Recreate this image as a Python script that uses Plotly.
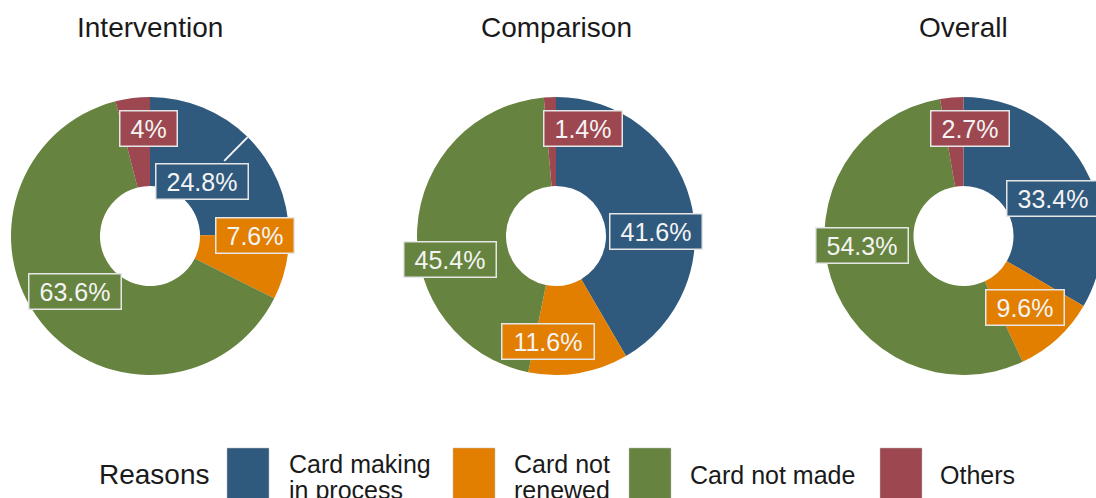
import math
import plotly.graph_objects as go

# ---- data -------------------------------------------------------------
groups = ["Intervention", "Comparison", "Overall"]
reasons = ["Card making in process", "Card not renewed", "Card not made", "Others"]
intervention = [24.8, 7.6, 63.6, 4.0]
comparison = [41.6, 11.6, 45.4, 1.4]
overall = [33.4, 9.6, 54.3, 2.7]
series = [intervention, comparison, overall]

colors = ["#30597E", "#E27E00", "#66843F", "#9D4751"]
legend_lines = [["Card making", "in process"], ["Card not", "renewed"],
                ["Card not made"], ["Others"]]

# ---- layout constants (pixels) ---------------------------------------
W, H = 1110, 498
R = 139
centers = [(150, 236), (556, 236), (963.5, 236)]
FONT = "Liberation Sans, Arial, Helvetica, sans-serif"

# label placement relative to each donut centre (repelled positions)
label_offsets = [
    [(51.5, -54.5), (105, -0.5), (-75.5, 55.5), (-2, -107.5)],
    [(99.5, -4.5), (-8.5, 105.5), (-106, 23), (26.5, -107.5)],
    [(89, -38), (61.5, 71.5), (-102, 10), (6.5, -107.5)],
]

ARIAL_W = {c: 0.556 for c in "0123456789"}
ARIAL_W.update({".": 0.278, "%": 0.889})


def text_width(s, size):
    return sum(ARIAL_W.get(ch, 0.556) for ch in s) * size


def px(x):
    return x / W


def py(y):
    return 1 - y / H


def fmt(v):
    return f"{v:g}%"


fig = go.Figure()
annotations = []
shapes = []

for gi, (name, vals, (cx, cy)) in enumerate(zip(groups, series, centers)):
    fig.add_trace(go.Pie(
        values=vals,
        labels=reasons,
        sort=False,
        direction="clockwise",
        rotation=0,
        hole=0.36,
        marker=dict(colors=colors, line=dict(width=0)),
        textinfo="none",
        hoverinfo="label+percent",
        showlegend=False,
        domain=dict(x=[px(cx - R), px(cx + R)], y=[py(cy + R), py(cy - R)]),
    ))
    # panel title
    annotations.append(dict(
        x=px(cx), y=py(27), xref="paper", yref="paper", text=name,
        showarrow=False, xanchor="center", yanchor="middle",
        font=dict(family=FONT, size=28, color="#1a1a1a"),
    ))
    # value labels
    total = sum(vals)
    cum = 0
    for si, v in enumerate(vals):
        mid = (cum + v / 2) / total * 2 * math.pi
        cum += v
        dx, dy = label_offsets[gi][si]
        lab = fmt(v)
        annotations.append(dict(
            x=px(cx + dx), y=py(cy + dy), xref="paper", yref="paper",
            text=lab, showarrow=False, xanchor="center", yanchor="middle",
            font=dict(family=FONT, size=25, color="#F4F4F4"),
            bgcolor=colors[si], bordercolor="#E6E6E6", borderwidth=1.5,
            borderpad=3, width=text_width(lab, 25) + 14,
        ))
        # leader segment for the label pushed off its slice
        if gi == 0 and si == 0:
            r0, r1 = 0.76 * R, 1.0 * R
            shapes.append(dict(
                type="line", xref="paper", yref="paper",
                x0=px(cx + r0 * math.sin(mid)), y0=py(cy - r0 * math.cos(mid)),
                x1=px(cx + r1 * math.sin(mid)), y1=py(cy - r1 * math.cos(mid)),
                line=dict(color="#F4F4F4", width=2), layer="above",
            ))

# ---- legend -----------------------------------------------------------
annotations.append(dict(
    x=px(97), y=py(474), xref="paper", yref="paper", text="Reasons",
    showarrow=False, xanchor="left", yanchor="middle",
    font=dict(family=FONT, size=28, color="#1a1a1a"),
))
key_x = [227, 453, 629, 880]
text_x = [287, 512, 688, 938]
for i, col in enumerate(colors):
    shapes.append(dict(
        type="rect", xref="paper", yref="paper",
        x0=px(key_x[i]), x1=px(key_x[i] + 42), y0=py(448), y1=py(505),
        fillcolor=col, line=dict(color="#BDBDBD", width=0.5), layer="above",
    ))
    lines = legend_lines[i]
    ys = [475] if len(lines) == 1 else [464, 490]
    for t, yy in zip(lines, ys):
        annotations.append(dict(
            x=px(text_x[i]), y=py(yy), xref="paper", yref="paper", text=t,
            showarrow=False, xanchor="left", yanchor="middle",
            font=dict(family=FONT, size=25, color="#1a1a1a"),
        ))

fig.update_layout(
    width=W, height=H, autosize=False,
    margin=dict(l=0, r=0, t=0, b=0),
    paper_bgcolor="white", plot_bgcolor="white",
    annotations=annotations, shapes=shapes,
)

fig.write_html(
    "out.html",
    post_script="document.documentElement.style.overflow='hidden';"
                "document.body.style.overflow='hidden';",
)
